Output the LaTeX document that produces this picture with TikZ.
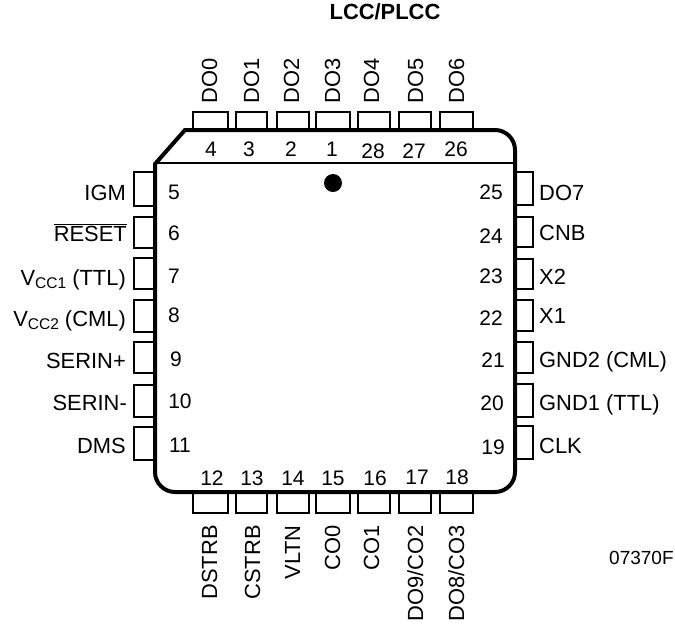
\documentclass[tikz,border=0pt]{standalone}
\usepackage{fontspec}
\setmainfont{Liberation Sans}
\usetikzlibrary{arrows}
\tikzstyle{pinbox} = [draw, line width=1.3pt]
\tikzstyle{pinnum} = [inner sep=0pt, font=\fontsize{21}{21}\selectfont]
\tikzstyle{pinlabel} = [inner sep=0pt, font=\fontsize{21.9}{21.9}\selectfont]
\newcommand{\subtxt}[1]{\raisebox{-3.5pt}{\fontsize{15.5}{15.5}\selectfont #1}}

\begin{document}
\begin{tikzpicture}[x=1pt,y=-1pt]
	\useasboundingbox (0,0) rectangle (675,630);
	\node[pinlabel, font=\fontsize{21.9}{21.9}\selectfont\bfseries] (title) at (385,12) {LCC/PLCC};
	% -------------- Top pins --------------
	\draw[pinbox] (193,112) rectangle (228,130);
	\draw[pinbox] (236,112) rectangle (267,130);
	\draw[pinbox] (277,112) rectangle (309,130);
	\draw[pinbox] (316,112) rectangle (350,130);
	\draw[pinbox] (358,112) rectangle (390,130);
	\draw[pinbox] (399,112) rectangle (431,130);
	\draw[pinbox] (440,112) rectangle (473,130);
	\node[pinlabel, rotate=90, anchor=base west] (do0) at (217,104) {DO0};
	\node[pinlabel, rotate=90, anchor=base west] (do1) at (259,104) {DO1};
	\node[pinlabel, rotate=90, anchor=base west] (do2) at (299,104) {DO2};
	\node[pinlabel, rotate=90, anchor=base west] (do3) at (340,104) {DO3};
	\node[pinlabel, rotate=90, anchor=base west] (do4) at (379,104) {DO4};
	\node[pinlabel, rotate=90, anchor=base west] (do5) at (423,104) {DO5};
	\node[pinlabel, rotate=90, anchor=base west] (do6) at (464,104) {DO6};
	% -------------- Bottom pins --------------
	\draw[pinbox] (193,492) rectangle (228,513);
	\draw[pinbox] (236,492) rectangle (267,513);
	\draw[pinbox] (277,492) rectangle (309,513);
	\draw[pinbox] (316,492) rectangle (350,513);
	\draw[pinbox] (358,492) rectangle (390,513);
	\draw[pinbox] (399,492) rectangle (431,513);
	\draw[pinbox] (440,492) rectangle (473,513);
	\node[pinlabel, rotate=90, anchor=base east] (dstrb) at (217,525) {DSTRB};
	\node[pinlabel, rotate=90, anchor=base east] (cstrb) at (260,525) {CSTRB};
	\node[pinlabel, rotate=90, anchor=base east] (vltn) at (300,525) {VLTN};
	\node[pinlabel, rotate=90, anchor=base east] (co0) at (340,525) {CO0};
	\node[pinlabel, rotate=90, anchor=base east] (co1) at (379,525) {CO1};
	\node[pinlabel, rotate=90, anchor=base east] (do9) at (423,525) {DO9/CO2};
	\node[pinlabel, rotate=90, anchor=base east] (do8) at (464,525) {DO8/CO3};
	% -------------- Left pins --------------
	\draw[pinbox] (134,172) rectangle (155,206);
	\draw[pinbox] (134,217) rectangle (155,248);
	\draw[pinbox] (134,258) rectangle (155,289);
	\draw[pinbox] (134,300) rectangle (155,332);
	\draw[pinbox] (134,342) rectangle (155,373);
	\draw[pinbox] (134,385) rectangle (155,417);
	\draw[pinbox] (134,427) rectangle (155,460);
	\node[pinlabel, anchor=base east] (igm) at (126,200) {IGM};
	\node[pinlabel, anchor=base east] (reset) at (127,241) {$\overline{\mbox{RESET}}$};
	\node[pinlabel, anchor=base east] (vcc1) at (126,285) {V\subtxt{CC1} (TTL)};
	\node[pinlabel, anchor=base east] (vcc2) at (126,326) {V\subtxt{CC2} (CML)};
	\node[pinlabel, anchor=base east] (serinp) at (126,368) {SERIN+};
	\node[pinlabel, anchor=base east] (serinm) at (127,410) {SERIN-};
	\node[pinlabel, anchor=base east] (dms) at (126,453) {DMS};
	% -------------- Right pins --------------
	\draw[pinbox] (515,172) rectangle (533,205);
	\draw[pinbox] (515,217) rectangle (533,247);
	\draw[pinbox] (515,259) rectangle (533,289);
	\draw[pinbox] (515,300) rectangle (533,331);
	\draw[pinbox] (515,342) rectangle (533,373);
	\draw[pinbox] (515,384) rectangle (533,417);
	\draw[pinbox] (515,426) rectangle (533,459);
	\node[pinlabel, anchor=base west] (do7) at (539,200) {DO7};
	\node[pinlabel, anchor=base west] (cnb) at (539,240) {CNB};
	\node[pinlabel, anchor=base west] (xtwo) at (539,284) {X2};
	\node[pinlabel, anchor=base west] (xone) at (539,323) {X1};
	\node[pinlabel, anchor=base west] (gnd2) at (539,367) {GND2 (CML)};
	\node[pinlabel, anchor=base west] (gnd1) at (539,410) {GND1 (TTL)};
	\node[pinlabel, anchor=base west] (clk) at (539,453) {CLK};
	% -------------- Package body --------------
	\draw[fill=white, line width=4pt, line join=miter] (185,130) [rounded corners=20] -- (515,130)
		-- (515,492) -- (155,492) [sharp corners] -- (155,164) -- cycle;
	\draw[line width=1.3pt] (155,163) -- (515,163);
	\fill (333,183) circle (9);
	% -------------- Pin numbers --------------
	\node[pinnum] (n4) at (211,149) {4};
	\node[pinnum] (n3) at (249,149) {3};
	\node[pinnum] (n2) at (291,149) {2};
	\node[pinnum] (n1) at (332,149) {1};
	\node[pinnum] (n28) at (373,151) {28};
	\node[pinnum] (n27) at (414,151) {27};
	\node[pinnum] (n26) at (456,149) {26};
	\node[pinnum] (n5) at (174,192) {5};
	\node[pinnum] (n6) at (174,233) {6};
	\node[pinnum] (n7) at (174,276) {7};
	\node[pinnum] (n8) at (174,315) {8};
	\node[pinnum] (n9) at (176,359) {9};
	\node[pinnum] (n10) at (180,401) {10};
	\node[pinnum] (n11) at (180,445) {11};
	\node[pinnum] (n12) at (212,478) {12};
	\node[pinnum] (n13) at (252,478) {13};
	\node[pinnum] (n14) at (293,478) {14};
	\node[pinnum] (n15) at (333,478) {15};
	\node[pinnum] (n16) at (375,478) {16};
	\node[pinnum] (n17) at (417,477) {17};
	\node[pinnum] (n18) at (457,477) {18};
	\node[pinnum] (n25) at (491,192) {25};
	\node[pinnum] (n24) at (491,236) {24};
	\node[pinnum] (n23) at (491,276) {23};
	\node[pinnum] (n22) at (491,318) {22};
	\node[pinnum] (n21) at (493,360) {21};
	\node[pinnum] (n20) at (492,403) {20};
	\node[pinnum] (n19) at (493,447) {19};
	\node[pinlabel, anchor=base west, font=\fontsize{19}{19}\selectfont] (code) at (609,564) {07370F};
\end{tikzpicture}
\end{document}
